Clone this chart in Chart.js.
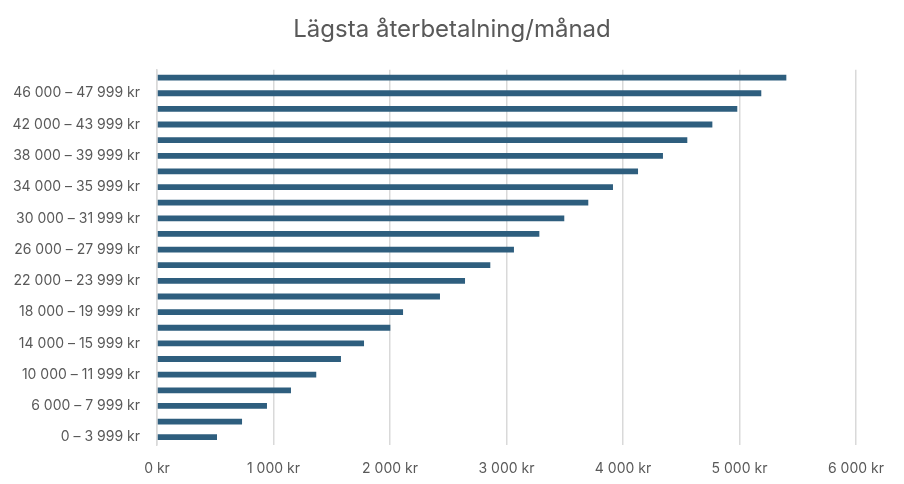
<!DOCTYPE html>
<html>
<head>
<meta charset="utf-8">
<script src="https://cdn.jsdelivr.net/npm/chart.js@4/dist/chart.umd.min.js"></script>
<style>
  html, body { margin: 0; padding: 0; background: #fff; }
  #wrap { width: 904px; height: 484px; }
</style>
</head>
<body>
<div id="wrap"><canvas id="chart"></canvas></div>
<script>
const categories = [
    "0 – 3 999 kr", "4 000 – 5 999 kr", "6 000 – 7 999 kr", "8 000 – 9 999 kr",
    "10 000 – 11 999 kr", "12 000 – 13 999 kr", "14 000 – 15 999 kr", "16 000 – 17 999 kr",
    "18 000 – 19 999 kr", "20 000 – 21 999 kr", "22 000 – 23 999 kr", "24 000 – 25 999 kr",
    "26 000 – 27 999 kr", "28 000 – 29 999 kr", "30 000 – 31 999 kr", "32 000 – 33 999 kr",
    "34 000 – 35 999 kr", "36 000 – 37 999 kr", "38 000 – 39 999 kr", "40 000 – 41 999 kr",
    "42 000 – 43 999 kr", "44 000 – 45 999 kr", "46 000 – 47 999 kr", "48 000 – 49 999 kr"
];
const payments = [
    515, 730, 944, 1150, 1367, 1579, 1777, 2003, 2112, 2429, 2644, 2861,
    3064, 3282, 3496, 3702, 3914, 4129, 4343, 4552, 4767, 4981, 5187, 5402
];
const xTicks = [0, 1000, 2000, 3000, 4000, 5000, 6000];

const textColor = "#595959";
const font = "Inter, 'Noto Sans', sans-serif";

const fmtKr = v => String(v).replace(/\B(?=(\d{3})+(?!\d))/g, "\u00a0") + "\u00a0kr";

const data = {
    labels: categories.map(c => c.replace(/ /g, "\u00a0").replace("\u00a0–\u00a0", " – ")),
    datasets: [
        {
            label: "Lägsta återbetalning/månad",
            backgroundColor: "#2E5E7E",
            data: payments,
            barPercentage: 0.37,
            categoryPercentage: 1.0,
        },
    ],
};

const config = {
    type: "bar",
    data: data,
    options: {
        indexAxis: "y",
        responsive: true,
        maintainAspectRatio: false,
        animation: false,
        layout: { padding: 0 },
        plugins: {
            legend: { display: false },
            tooltip: { enabled: false },
            title: {
                display: true,
                text: "Lägsta återbetalning/månad",
                color: textColor,
                font: { family: font, size: 24, weight: "normal" },
                padding: { top: 15, bottom: 26 },
            },
        },
        scales: {
            x: {
                min: 0,
                max: 6000,
                afterBuildTicks: axis => { axis.ticks = xTicks.map(v => ({ value: v })); },
                afterFit: axis => { axis.height = 39; },
                grid: { color: "#D9D9D9", lineWidth: 1.5, drawTicks: false },
                border: { display: false },
                ticks: {
                    color: textColor,
                    font: { family: font, size: 14 },
                    padding: 15,
                    callback: v => fmtKr(v),
                },
            },
            y: {
                reverse: true,
                afterFit: axis => { axis.width = 157; },
                grid: { display: false, drawTicks: false },
                border: { display: true, color: "#D9D9D9", width: 1.5 },
                ticks: {
                    autoSkip: false,
                    color: textColor,
                    font: { family: font, size: 14 },
                    padding: 17,
                    callback: function (v, i) { return i % 2 === 0 ? this.getLabelForValue(v) : ""; },
                },
            },
            // empty spacer on the right so the plot ends at 6 000 kr
            spacer: {
                type: "category",
                axis: "y",
                position: "right",
                afterFit: axis => { axis.width = 48; },
                grid: { display: false, drawTicks: false },
                border: { display: false },
                ticks: { display: false },
            },
        },
    },
};

const myChart = new Chart(document.getElementById("chart"), config);
</script>
</body>
</html>
